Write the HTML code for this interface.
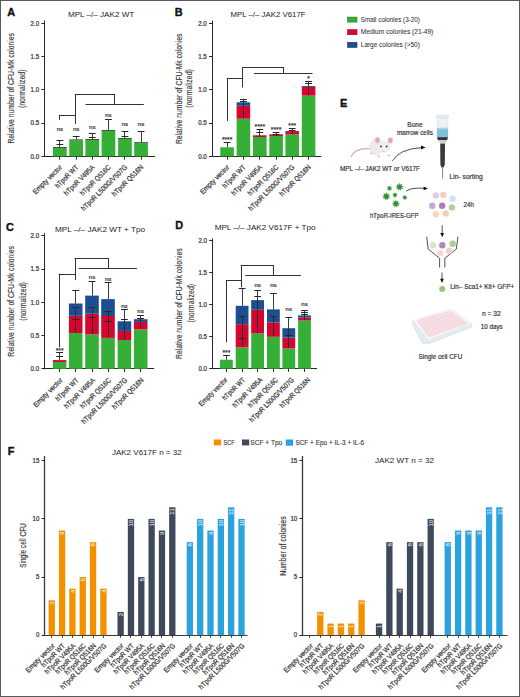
<!DOCTYPE html>
<html><head><meta charset="utf-8"><style>
html,body{margin:0;padding:0;background:#fff;}
body{width:520px;height:697px;overflow:hidden;}
svg{display:block;}
text{font-family:"Liberation Sans", sans-serif;}
</style></head><body>
<svg width="520" height="697" viewBox="0 0 520 697">
<rect x="0" y="0" width="520" height="697" fill="#fff"/>
<line x1="44.50" y1="20.60" x2="44.50" y2="156.90" stroke="#262626" stroke-width="1.0"/>
<line x1="44.30" y1="156.50" x2="155.00" y2="156.50" stroke="#262626" stroke-width="1.0"/>
<line x1="41.40" y1="156.50" x2="44.80" y2="156.50" stroke="#262626" stroke-width="1.0"/>
<text x="39.20" y="158.70" font-size="6.4" text-anchor="end" fill="#333" textLength="8.60" lengthAdjust="spacingAndGlyphs" stroke="#333" stroke-width="0.22">0.0</text>
<line x1="41.40" y1="123.50" x2="44.80" y2="123.50" stroke="#262626" stroke-width="1.0"/>
<text x="39.20" y="125.40" font-size="6.4" text-anchor="end" fill="#333" textLength="8.60" lengthAdjust="spacingAndGlyphs" stroke="#333" stroke-width="0.22">0.5</text>
<line x1="41.40" y1="89.50" x2="44.80" y2="89.50" stroke="#262626" stroke-width="1.0"/>
<text x="39.20" y="92.10" font-size="6.4" text-anchor="end" fill="#333" textLength="8.60" lengthAdjust="spacingAndGlyphs" stroke="#333" stroke-width="0.22">1.0</text>
<line x1="41.40" y1="56.50" x2="44.80" y2="56.50" stroke="#262626" stroke-width="1.0"/>
<text x="39.20" y="58.80" font-size="6.4" text-anchor="end" fill="#333" textLength="8.60" lengthAdjust="spacingAndGlyphs" stroke="#333" stroke-width="0.22">1.5</text>
<line x1="41.40" y1="23.50" x2="44.80" y2="23.50" stroke="#262626" stroke-width="1.0"/>
<text x="39.20" y="25.50" font-size="6.4" text-anchor="end" fill="#333" textLength="8.60" lengthAdjust="spacingAndGlyphs" stroke="#333" stroke-width="0.22">2.0</text>
<text x="13.70" y="88.30" font-size="8.4" text-anchor="middle" fill="#333" textLength="110.50" lengthAdjust="spacingAndGlyphs" transform="rotate(-90 13.70 88.30)" stroke="#333" stroke-width="0.12">Relative number of CFU-Mk colonies</text>
<text x="25.10" y="88.80" font-size="8.4" text-anchor="middle" fill="#333" textLength="38.50" lengthAdjust="spacingAndGlyphs" transform="rotate(-90 25.10 88.80)" stroke="#333" stroke-width="0.12">(normalized)</text>
<rect x="53.00" y="148.00" width="13.70" height="8.40" fill="#35af36"/>
<rect x="53.00" y="147.10" width="13.70" height="0.90" fill="#2a4a24"/>
<line x1="59.50" y1="156.40" x2="59.50" y2="159.60" stroke="#262626" stroke-width="1.0"/>
<text x="62.55" y="167.80" font-size="7.2" text-anchor="end" fill="#333" textLength="38.00" lengthAdjust="spacingAndGlyphs" transform="rotate(-45 62.55 167.80)" stroke="#333" stroke-width="0.22">Empty vector</text>
<rect x="69.30" y="140.30" width="13.70" height="16.10" fill="#35af36"/>
<rect x="69.30" y="139.40" width="13.70" height="0.90" fill="#2a4a24"/>
<line x1="76.50" y1="156.40" x2="76.50" y2="159.60" stroke="#262626" stroke-width="1.0"/>
<text x="78.85" y="167.80" font-size="7.2" text-anchor="end" fill="#333" textLength="29.60" lengthAdjust="spacingAndGlyphs" transform="rotate(-45 78.85 167.80)" stroke="#333" stroke-width="0.22">hTpoR WT</text>
<rect x="85.40" y="139.90" width="13.70" height="16.50" fill="#35af36"/>
<rect x="85.40" y="139.00" width="13.70" height="0.90" fill="#2a4a24"/>
<line x1="92.50" y1="156.40" x2="92.50" y2="159.60" stroke="#262626" stroke-width="1.0"/>
<text x="94.95" y="167.80" font-size="7.2" text-anchor="end" fill="#333" textLength="40.00" lengthAdjust="spacingAndGlyphs" transform="rotate(-45 94.95 167.80)" stroke="#333" stroke-width="0.22">hTpoR V495A</text>
<rect x="101.60" y="131.00" width="13.70" height="25.40" fill="#35af36"/>
<rect x="101.60" y="130.10" width="13.70" height="0.90" fill="#2a4a24"/>
<line x1="108.50" y1="156.40" x2="108.50" y2="159.60" stroke="#262626" stroke-width="1.0"/>
<text x="111.15" y="167.80" font-size="7.2" text-anchor="end" fill="#333" textLength="40.00" lengthAdjust="spacingAndGlyphs" transform="rotate(-45 111.15 167.80)" stroke="#333" stroke-width="0.22">hTpoR Q516C</text>
<rect x="118.10" y="138.90" width="13.70" height="17.50" fill="#35af36"/>
<rect x="118.10" y="138.00" width="13.70" height="0.90" fill="#2a4a24"/>
<line x1="124.50" y1="156.40" x2="124.50" y2="159.60" stroke="#262626" stroke-width="1.0"/>
<text x="127.65" y="167.80" font-size="7.2" text-anchor="end" fill="#333" textLength="61.60" lengthAdjust="spacingAndGlyphs" transform="rotate(-45 127.65 167.80)" stroke="#333" stroke-width="0.22">hTpoR L500G/V507G</text>
<rect x="134.20" y="143.10" width="13.70" height="13.30" fill="#35af36"/>
<rect x="134.20" y="142.20" width="13.70" height="0.90" fill="#2a4a24"/>
<line x1="141.50" y1="156.40" x2="141.50" y2="159.60" stroke="#262626" stroke-width="1.0"/>
<text x="143.75" y="167.80" font-size="7.2" text-anchor="end" fill="#333" textLength="41.00" lengthAdjust="spacingAndGlyphs" transform="rotate(-45 143.75 167.80)" stroke="#333" stroke-width="0.22">hTpoR Q516N</text>
<line x1="59.50" y1="140.60" x2="59.50" y2="147.10" stroke="#262626" stroke-width="0.9"/>
<line x1="56.45" y1="140.50" x2="63.25" y2="140.50" stroke="#262626" stroke-width="1.0"/>
<line x1="56.45" y1="144.50" x2="63.25" y2="144.50" stroke="#262626" stroke-width="1.0"/>
<line x1="76.50" y1="136.20" x2="76.50" y2="139.40" stroke="#262626" stroke-width="0.9"/>
<line x1="72.75" y1="136.50" x2="79.55" y2="136.50" stroke="#262626" stroke-width="1.0"/>
<line x1="92.50" y1="133.50" x2="92.50" y2="139.00" stroke="#262626" stroke-width="0.9"/>
<line x1="88.85" y1="133.50" x2="95.65" y2="133.50" stroke="#262626" stroke-width="1.0"/>
<line x1="88.85" y1="137.50" x2="95.65" y2="137.50" stroke="#262626" stroke-width="1.0"/>
<line x1="108.50" y1="119.30" x2="108.50" y2="130.10" stroke="#262626" stroke-width="0.9"/>
<line x1="105.05" y1="119.50" x2="111.85" y2="119.50" stroke="#262626" stroke-width="1.0"/>
<line x1="124.50" y1="131.30" x2="124.50" y2="138.00" stroke="#262626" stroke-width="0.9"/>
<line x1="121.55" y1="131.50" x2="128.35" y2="131.50" stroke="#262626" stroke-width="1.0"/>
<line x1="121.55" y1="136.50" x2="128.35" y2="136.50" stroke="#262626" stroke-width="1.0"/>
<line x1="141.50" y1="131.90" x2="141.50" y2="142.20" stroke="#262626" stroke-width="0.9"/>
<line x1="137.65" y1="131.50" x2="144.45" y2="131.50" stroke="#262626" stroke-width="1.0"/>
<text x="59.85" y="130.70" font-size="6.2" text-anchor="middle" fill="#333" textLength="6.40" lengthAdjust="spacingAndGlyphs" stroke="#333" stroke-width="0.22">ns</text>
<text x="76.15" y="130.70" font-size="6.2" text-anchor="middle" fill="#333" textLength="6.40" lengthAdjust="spacingAndGlyphs" stroke="#333" stroke-width="0.22">ns</text>
<text x="92.25" y="128.70" font-size="6.2" text-anchor="middle" fill="#333" textLength="6.40" lengthAdjust="spacingAndGlyphs" stroke="#333" stroke-width="0.22">ns</text>
<text x="108.45" y="117.20" font-size="6.2" text-anchor="middle" fill="#333" textLength="6.40" lengthAdjust="spacingAndGlyphs" stroke="#333" stroke-width="0.22">ns</text>
<text x="124.95" y="126.10" font-size="6.2" text-anchor="middle" fill="#333" textLength="6.40" lengthAdjust="spacingAndGlyphs" stroke="#333" stroke-width="0.22">ns</text>
<text x="141.05" y="126.10" font-size="6.2" text-anchor="middle" fill="#333" textLength="6.40" lengthAdjust="spacingAndGlyphs" stroke="#333" stroke-width="0.22">ns</text>
<line x1="75.25" y1="94.50" x2="114.60" y2="94.50" stroke="#333" stroke-width="1.0" stroke-linecap="square"/>
<line x1="75.50" y1="94.50" x2="75.50" y2="123.40" stroke="#333" stroke-width="1.0" stroke-linecap="square"/>
<line x1="114.50" y1="94.50" x2="114.50" y2="104.60" stroke="#333" stroke-width="1.0" stroke-linecap="square"/>
<line x1="86.00" y1="104.50" x2="143.30" y2="104.50" stroke="#333" stroke-width="1.0" stroke-linecap="square"/>
<line x1="59.70" y1="115.50" x2="75.25" y2="115.50" stroke="#333" stroke-width="1.0" stroke-linecap="square"/>
<line x1="59.50" y1="115.30" x2="59.50" y2="119.30" stroke="#333" stroke-width="1.0" stroke-linecap="square"/>
<text x="7.20" y="16.30" font-size="10.9" text-anchor="start" fill="#111" font-weight="bold" stroke="#111" stroke-width="0.35">A</text>
<text x="67.90" y="17.20" font-size="7.7" text-anchor="start" fill="#222" textLength="66.40" lengthAdjust="spacingAndGlyphs">MPL –/– JAK2 WT</text>
<line x1="212.50" y1="20.60" x2="212.50" y2="156.90" stroke="#262626" stroke-width="1.0"/>
<line x1="211.90" y1="156.50" x2="321.30" y2="156.50" stroke="#262626" stroke-width="1.0"/>
<line x1="209.00" y1="156.50" x2="212.40" y2="156.50" stroke="#262626" stroke-width="1.0"/>
<text x="206.80" y="158.70" font-size="6.4" text-anchor="end" fill="#333" textLength="8.60" lengthAdjust="spacingAndGlyphs" stroke="#333" stroke-width="0.22">0.0</text>
<line x1="209.00" y1="123.50" x2="212.40" y2="123.50" stroke="#262626" stroke-width="1.0"/>
<text x="206.80" y="125.42" font-size="6.4" text-anchor="end" fill="#333" textLength="8.60" lengthAdjust="spacingAndGlyphs" stroke="#333" stroke-width="0.22">0.5</text>
<line x1="209.00" y1="89.50" x2="212.40" y2="89.50" stroke="#262626" stroke-width="1.0"/>
<text x="206.80" y="92.15" font-size="6.4" text-anchor="end" fill="#333" textLength="8.60" lengthAdjust="spacingAndGlyphs" stroke="#333" stroke-width="0.22">1.0</text>
<line x1="209.00" y1="56.50" x2="212.40" y2="56.50" stroke="#262626" stroke-width="1.0"/>
<text x="206.80" y="58.88" font-size="6.4" text-anchor="end" fill="#333" textLength="8.60" lengthAdjust="spacingAndGlyphs" stroke="#333" stroke-width="0.22">1.5</text>
<line x1="209.00" y1="23.50" x2="212.40" y2="23.50" stroke="#262626" stroke-width="1.0"/>
<text x="206.80" y="25.60" font-size="6.4" text-anchor="end" fill="#333" textLength="8.60" lengthAdjust="spacingAndGlyphs" stroke="#333" stroke-width="0.22">2.0</text>
<text x="182.20" y="88.80" font-size="8.4" text-anchor="middle" fill="#333" textLength="110.50" lengthAdjust="spacingAndGlyphs" transform="rotate(-90 182.20 88.80)" stroke="#333" stroke-width="0.12">Relative number of CFU-Mk colonies</text>
<text x="192.20" y="88.40" font-size="8.4" text-anchor="middle" fill="#333" textLength="38.50" lengthAdjust="spacingAndGlyphs" transform="rotate(-90 192.20 88.40)" stroke="#333" stroke-width="0.12">(normalized)</text>
<rect x="220.30" y="147.30" width="13.60" height="9.10" fill="#35af36"/>
<line x1="227.50" y1="156.40" x2="227.50" y2="159.60" stroke="#262626" stroke-width="1.0"/>
<text x="229.80" y="167.80" font-size="7.2" text-anchor="end" fill="#333" textLength="38.00" lengthAdjust="spacingAndGlyphs" transform="rotate(-45 229.80 167.80)" stroke="#333" stroke-width="0.22">Empty vector</text>
<rect x="236.60" y="118.70" width="13.60" height="37.70" fill="#35af36"/>
<rect x="236.60" y="105.80" width="13.60" height="12.90" fill="#d5062f"/>
<rect x="236.60" y="102.30" width="13.60" height="3.50" fill="#1b4f92"/>
<line x1="243.50" y1="156.40" x2="243.50" y2="159.60" stroke="#262626" stroke-width="1.0"/>
<text x="246.10" y="167.80" font-size="7.2" text-anchor="end" fill="#333" textLength="29.60" lengthAdjust="spacingAndGlyphs" transform="rotate(-45 246.10 167.80)" stroke="#333" stroke-width="0.22">hTpoR WT</text>
<rect x="253.00" y="137.00" width="13.60" height="19.40" fill="#35af36"/>
<rect x="253.00" y="135.30" width="13.60" height="1.70" fill="#d5062f"/>
<line x1="259.50" y1="156.40" x2="259.50" y2="159.60" stroke="#262626" stroke-width="1.0"/>
<text x="262.50" y="167.80" font-size="7.2" text-anchor="end" fill="#333" textLength="40.00" lengthAdjust="spacingAndGlyphs" transform="rotate(-45 262.50 167.80)" stroke="#333" stroke-width="0.22">hTpoR V495A</text>
<rect x="269.30" y="136.00" width="13.60" height="20.40" fill="#35af36"/>
<rect x="269.30" y="134.30" width="13.60" height="1.70" fill="#d5062f"/>
<line x1="276.50" y1="156.40" x2="276.50" y2="159.60" stroke="#262626" stroke-width="1.0"/>
<text x="278.80" y="167.80" font-size="7.2" text-anchor="end" fill="#333" textLength="40.00" lengthAdjust="spacingAndGlyphs" transform="rotate(-45 278.80 167.80)" stroke="#333" stroke-width="0.22">hTpoR Q516C</text>
<rect x="285.40" y="134.40" width="13.60" height="22.00" fill="#35af36"/>
<rect x="285.40" y="131.10" width="13.60" height="3.30" fill="#d5062f"/>
<line x1="292.50" y1="156.40" x2="292.50" y2="159.60" stroke="#262626" stroke-width="1.0"/>
<text x="294.90" y="167.80" font-size="7.2" text-anchor="end" fill="#333" textLength="61.60" lengthAdjust="spacingAndGlyphs" transform="rotate(-45 294.90 167.80)" stroke="#333" stroke-width="0.22">hTpoR L500G/V507G</text>
<rect x="301.80" y="95.60" width="13.60" height="60.80" fill="#35af36"/>
<rect x="301.80" y="86.90" width="13.60" height="8.70" fill="#d5062f"/>
<rect x="301.80" y="86.00" width="13.60" height="0.90" fill="#1b4f92"/>
<line x1="308.50" y1="156.40" x2="308.50" y2="159.60" stroke="#262626" stroke-width="1.0"/>
<text x="311.30" y="167.80" font-size="7.2" text-anchor="end" fill="#333" textLength="41.00" lengthAdjust="spacingAndGlyphs" transform="rotate(-45 311.30 167.80)" stroke="#333" stroke-width="0.22">hTpoR Q516N</text>
<line x1="227.50" y1="142.50" x2="227.50" y2="147.30" stroke="#262626" stroke-width="0.9"/>
<line x1="223.70" y1="142.50" x2="230.50" y2="142.50" stroke="#262626" stroke-width="1.0"/>
<line x1="243.50" y1="99.50" x2="243.50" y2="118.40" stroke="#262626" stroke-width="0.9"/>
<line x1="240.00" y1="99.50" x2="246.80" y2="99.50" stroke="#262626" stroke-width="1.0"/>
<line x1="240.00" y1="101.50" x2="246.80" y2="101.50" stroke="#262626" stroke-width="1.0"/>
<line x1="259.50" y1="129.40" x2="259.50" y2="137.00" stroke="#262626" stroke-width="0.9"/>
<line x1="256.40" y1="129.50" x2="263.20" y2="129.50" stroke="#262626" stroke-width="1.0"/>
<line x1="256.40" y1="132.50" x2="263.20" y2="132.50" stroke="#262626" stroke-width="1.0"/>
<line x1="276.50" y1="132.40" x2="276.50" y2="136.00" stroke="#262626" stroke-width="0.9"/>
<line x1="272.65" y1="132.50" x2="279.45" y2="132.50" stroke="#262626" stroke-width="1.0"/>
<line x1="272.65" y1="134.50" x2="279.45" y2="134.50" stroke="#262626" stroke-width="1.0"/>
<line x1="292.50" y1="128.40" x2="292.50" y2="134.40" stroke="#262626" stroke-width="0.9"/>
<line x1="288.80" y1="128.50" x2="295.60" y2="128.50" stroke="#262626" stroke-width="1.0"/>
<line x1="288.80" y1="130.50" x2="295.60" y2="130.50" stroke="#262626" stroke-width="1.0"/>
<line x1="308.50" y1="81.50" x2="308.50" y2="95.60" stroke="#262626" stroke-width="0.9"/>
<line x1="305.20" y1="81.50" x2="312.00" y2="81.50" stroke="#262626" stroke-width="1.0"/>
<line x1="305.20" y1="83.50" x2="312.00" y2="83.50" stroke="#262626" stroke-width="1.0"/>
<text x="227.10" y="142.00" font-size="6.4" text-anchor="middle" fill="#333" textLength="10.40" lengthAdjust="spacingAndGlyphs" stroke="#333" stroke-width="0.22">****</text>
<text x="259.80" y="129.00" font-size="6.4" text-anchor="middle" fill="#333" textLength="10.40" lengthAdjust="spacingAndGlyphs" stroke="#333" stroke-width="0.22">****</text>
<text x="276.05" y="131.50" font-size="6.4" text-anchor="middle" fill="#333" textLength="10.40" lengthAdjust="spacingAndGlyphs" stroke="#333" stroke-width="0.22">****</text>
<text x="292.20" y="127.50" font-size="6.4" text-anchor="middle" fill="#333" textLength="7.80" lengthAdjust="spacingAndGlyphs" stroke="#333" stroke-width="0.22">***</text>
<text x="308.60" y="81.30" font-size="6.4" text-anchor="middle" fill="#333" textLength="2.60" lengthAdjust="spacingAndGlyphs" stroke="#333" stroke-width="0.22">*</text>
<line x1="242.80" y1="67.50" x2="283.40" y2="67.50" stroke="#333" stroke-width="1.0" stroke-linecap="square"/>
<line x1="242.50" y1="67.70" x2="242.50" y2="86.90" stroke="#333" stroke-width="1.0" stroke-linecap="square"/>
<line x1="283.50" y1="67.70" x2="283.50" y2="73.40" stroke="#333" stroke-width="1.0" stroke-linecap="square"/>
<line x1="254.50" y1="73.50" x2="312.00" y2="73.50" stroke="#333" stroke-width="1.0" stroke-linecap="square"/>
<line x1="227.20" y1="78.50" x2="242.80" y2="78.50" stroke="#333" stroke-width="1.0" stroke-linecap="square"/>
<line x1="227.50" y1="78.70" x2="227.50" y2="120.40" stroke="#333" stroke-width="1.0" stroke-linecap="square"/>
<text x="174.80" y="16.30" font-size="10.9" text-anchor="start" fill="#111" font-weight="bold" stroke="#111" stroke-width="0.35">B</text>
<text x="230.40" y="17.30" font-size="7.7" text-anchor="start" fill="#222" textLength="75.20" lengthAdjust="spacingAndGlyphs">MPL –/– JAK2 V617F</text>
<line x1="44.50" y1="233.20" x2="44.50" y2="369.30" stroke="#262626" stroke-width="1.0"/>
<line x1="44.30" y1="368.50" x2="154.10" y2="368.50" stroke="#262626" stroke-width="1.0"/>
<line x1="41.40" y1="368.50" x2="44.80" y2="368.50" stroke="#262626" stroke-width="1.0"/>
<text x="39.20" y="371.10" font-size="6.4" text-anchor="end" fill="#333" textLength="8.60" lengthAdjust="spacingAndGlyphs" stroke="#333" stroke-width="0.22">0.0</text>
<line x1="41.40" y1="335.50" x2="44.80" y2="335.50" stroke="#262626" stroke-width="1.0"/>
<text x="39.20" y="337.85" font-size="6.4" text-anchor="end" fill="#333" textLength="8.60" lengthAdjust="spacingAndGlyphs" stroke="#333" stroke-width="0.22">0.5</text>
<line x1="41.40" y1="302.50" x2="44.80" y2="302.50" stroke="#262626" stroke-width="1.0"/>
<text x="39.20" y="304.60" font-size="6.4" text-anchor="end" fill="#333" textLength="8.60" lengthAdjust="spacingAndGlyphs" stroke="#333" stroke-width="0.22">1.0</text>
<line x1="41.40" y1="269.50" x2="44.80" y2="269.50" stroke="#262626" stroke-width="1.0"/>
<text x="39.20" y="271.35" font-size="6.4" text-anchor="end" fill="#333" textLength="8.60" lengthAdjust="spacingAndGlyphs" stroke="#333" stroke-width="0.22">1.5</text>
<line x1="41.40" y1="235.50" x2="44.80" y2="235.50" stroke="#262626" stroke-width="1.0"/>
<text x="39.20" y="238.10" font-size="6.4" text-anchor="end" fill="#333" textLength="8.60" lengthAdjust="spacingAndGlyphs" stroke="#333" stroke-width="0.22">2.0</text>
<text x="14.30" y="301.40" font-size="8.4" text-anchor="middle" fill="#333" textLength="110.50" lengthAdjust="spacingAndGlyphs" transform="rotate(-90 14.30 301.40)" stroke="#333" stroke-width="0.12">Relative number of CFU-Mk colonies</text>
<text x="25.70" y="301.40" font-size="8.4" text-anchor="middle" fill="#333" textLength="38.50" lengthAdjust="spacingAndGlyphs" transform="rotate(-90 25.70 301.40)" stroke="#333" stroke-width="0.12">(normalized)</text>
<rect x="52.80" y="362.00" width="13.60" height="6.80" fill="#35af36"/>
<rect x="52.80" y="360.10" width="13.60" height="1.90" fill="#d5062f"/>
<line x1="59.50" y1="368.80" x2="59.50" y2="372.00" stroke="#262626" stroke-width="1.0"/>
<text x="63.00" y="380.80" font-size="7.2" text-anchor="end" fill="#333" textLength="38.00" lengthAdjust="spacingAndGlyphs" transform="rotate(-45 63.00 380.80)" stroke="#333" stroke-width="0.22">Empty vector</text>
<rect x="68.90" y="333.00" width="13.60" height="35.80" fill="#35af36"/>
<rect x="68.90" y="315.80" width="13.60" height="17.20" fill="#d5062f"/>
<rect x="68.90" y="303.50" width="13.60" height="12.30" fill="#1b4f92"/>
<line x1="75.50" y1="368.80" x2="75.50" y2="372.00" stroke="#262626" stroke-width="1.0"/>
<text x="79.10" y="380.80" font-size="7.2" text-anchor="end" fill="#333" textLength="29.60" lengthAdjust="spacingAndGlyphs" transform="rotate(-45 79.10 380.80)" stroke="#333" stroke-width="0.22">hTpoR WT</text>
<rect x="85.20" y="334.40" width="13.60" height="34.40" fill="#35af36"/>
<rect x="85.20" y="313.70" width="13.60" height="20.70" fill="#d5062f"/>
<rect x="85.20" y="295.60" width="13.60" height="18.10" fill="#1b4f92"/>
<line x1="92.50" y1="368.80" x2="92.50" y2="372.00" stroke="#262626" stroke-width="1.0"/>
<text x="95.40" y="380.80" font-size="7.2" text-anchor="end" fill="#333" textLength="40.00" lengthAdjust="spacingAndGlyphs" transform="rotate(-45 95.40 380.80)" stroke="#333" stroke-width="0.22">hTpoR V495A</text>
<rect x="101.20" y="337.90" width="13.60" height="30.90" fill="#35af36"/>
<rect x="101.20" y="316.00" width="13.60" height="21.90" fill="#d5062f"/>
<rect x="101.20" y="299.10" width="13.60" height="16.90" fill="#1b4f92"/>
<line x1="108.50" y1="368.80" x2="108.50" y2="372.00" stroke="#262626" stroke-width="1.0"/>
<text x="111.40" y="380.80" font-size="7.2" text-anchor="end" fill="#333" textLength="40.00" lengthAdjust="spacingAndGlyphs" transform="rotate(-45 111.40 380.80)" stroke="#333" stroke-width="0.22">hTpoR Q516C</text>
<rect x="117.60" y="340.00" width="13.60" height="28.80" fill="#35af36"/>
<rect x="117.60" y="330.90" width="13.60" height="9.10" fill="#d5062f"/>
<rect x="117.60" y="321.30" width="13.60" height="9.60" fill="#1b4f92"/>
<line x1="124.50" y1="368.80" x2="124.50" y2="372.00" stroke="#262626" stroke-width="1.0"/>
<text x="127.80" y="380.80" font-size="7.2" text-anchor="end" fill="#333" textLength="61.60" lengthAdjust="spacingAndGlyphs" transform="rotate(-45 127.80 380.80)" stroke="#333" stroke-width="0.22">hTpoR L500G/V507G</text>
<rect x="133.90" y="329.40" width="13.60" height="39.40" fill="#35af36"/>
<rect x="133.90" y="321.90" width="13.60" height="7.50" fill="#d5062f"/>
<rect x="133.90" y="319.20" width="13.60" height="2.70" fill="#1b4f92"/>
<line x1="140.50" y1="368.80" x2="140.50" y2="372.00" stroke="#262626" stroke-width="1.0"/>
<text x="144.10" y="380.80" font-size="7.2" text-anchor="end" fill="#333" textLength="41.00" lengthAdjust="spacingAndGlyphs" transform="rotate(-45 144.10 380.80)" stroke="#333" stroke-width="0.22">hTpoR Q516N</text>
<line x1="59.50" y1="352.70" x2="59.50" y2="360.10" stroke="#262626" stroke-width="0.9"/>
<line x1="56.20" y1="352.50" x2="63.00" y2="352.50" stroke="#262626" stroke-width="1.0"/>
<line x1="56.20" y1="356.50" x2="63.00" y2="356.50" stroke="#262626" stroke-width="1.0"/>
<line x1="75.50" y1="290.30" x2="75.50" y2="303.50" stroke="#262626" stroke-width="0.9"/>
<line x1="75.50" y1="307.40" x2="75.50" y2="332.50" stroke="#262626" stroke-width="0.9"/>
<line x1="72.30" y1="290.50" x2="79.10" y2="290.50" stroke="#262626" stroke-width="1.0"/>
<line x1="72.30" y1="307.50" x2="79.10" y2="307.50" stroke="#262626" stroke-width="1.0"/>
<line x1="72.30" y1="319.50" x2="79.10" y2="319.50" stroke="#262626" stroke-width="1.0"/>
<line x1="92.50" y1="281.30" x2="92.50" y2="295.60" stroke="#262626" stroke-width="0.9"/>
<line x1="92.50" y1="307.30" x2="92.50" y2="333.80" stroke="#262626" stroke-width="0.9"/>
<line x1="88.60" y1="281.50" x2="95.40" y2="281.50" stroke="#262626" stroke-width="1.0"/>
<line x1="88.60" y1="307.50" x2="95.40" y2="307.50" stroke="#262626" stroke-width="1.0"/>
<line x1="88.60" y1="317.50" x2="95.40" y2="317.50" stroke="#262626" stroke-width="1.0"/>
<line x1="108.50" y1="282.40" x2="108.50" y2="299.10" stroke="#262626" stroke-width="0.9"/>
<line x1="108.50" y1="311.40" x2="108.50" y2="337.50" stroke="#262626" stroke-width="0.9"/>
<line x1="104.70" y1="282.50" x2="111.50" y2="282.50" stroke="#262626" stroke-width="1.0"/>
<line x1="104.70" y1="311.50" x2="111.50" y2="311.50" stroke="#262626" stroke-width="1.0"/>
<line x1="104.70" y1="321.50" x2="111.50" y2="321.50" stroke="#262626" stroke-width="1.0"/>
<line x1="124.50" y1="309.70" x2="124.50" y2="339.00" stroke="#262626" stroke-width="0.9"/>
<line x1="121.00" y1="309.50" x2="127.80" y2="309.50" stroke="#262626" stroke-width="1.0"/>
<line x1="121.00" y1="319.50" x2="127.80" y2="319.50" stroke="#262626" stroke-width="1.0"/>
<line x1="140.50" y1="315.40" x2="140.50" y2="328.80" stroke="#262626" stroke-width="0.9"/>
<line x1="137.10" y1="315.50" x2="143.90" y2="315.50" stroke="#262626" stroke-width="1.0"/>
<line x1="137.10" y1="318.50" x2="143.90" y2="318.50" stroke="#262626" stroke-width="1.0"/>
<text x="59.60" y="352.50" font-size="6.4" text-anchor="middle" fill="#333" textLength="7.80" lengthAdjust="spacingAndGlyphs" stroke="#333" stroke-width="0.22">***</text>
<text x="92.00" y="279.30" font-size="6.2" text-anchor="middle" fill="#333" textLength="6.40" lengthAdjust="spacingAndGlyphs" stroke="#333" stroke-width="0.22">ns</text>
<text x="108.10" y="280.70" font-size="6.2" text-anchor="middle" fill="#333" textLength="6.40" lengthAdjust="spacingAndGlyphs" stroke="#333" stroke-width="0.22">ns</text>
<text x="124.40" y="307.80" font-size="6.2" text-anchor="middle" fill="#333" textLength="6.40" lengthAdjust="spacingAndGlyphs" stroke="#333" stroke-width="0.22">ns</text>
<text x="140.50" y="313.10" font-size="6.2" text-anchor="middle" fill="#333" textLength="6.40" lengthAdjust="spacingAndGlyphs" stroke="#333" stroke-width="0.22">ns</text>
<line x1="75.00" y1="258.50" x2="108.30" y2="258.50" stroke="#333" stroke-width="1.0" stroke-linecap="square"/>
<line x1="75.50" y1="258.50" x2="75.50" y2="279.60" stroke="#333" stroke-width="1.0" stroke-linecap="square"/>
<line x1="108.50" y1="258.50" x2="108.50" y2="268.50" stroke="#333" stroke-width="1.0" stroke-linecap="square"/>
<line x1="79.20" y1="268.50" x2="136.50" y2="268.50" stroke="#333" stroke-width="1.0" stroke-linecap="square"/>
<line x1="59.20" y1="274.50" x2="75.00" y2="274.50" stroke="#333" stroke-width="1.0" stroke-linecap="square"/>
<line x1="59.50" y1="274.20" x2="59.50" y2="346.70" stroke="#333" stroke-width="1.0" stroke-linecap="square"/>
<text x="6.00" y="231.00" font-size="10.9" text-anchor="start" fill="#111" font-weight="bold" stroke="#111" stroke-width="0.35">C</text>
<text x="55.00" y="231.90" font-size="7.7" text-anchor="start" fill="#222" textLength="90.00" lengthAdjust="spacingAndGlyphs">MPL –/– JAK2 WT + Tpo</text>
<line x1="212.50" y1="238.40" x2="212.50" y2="369.20" stroke="#262626" stroke-width="1.0"/>
<line x1="212.10" y1="368.50" x2="317.00" y2="368.50" stroke="#262626" stroke-width="1.0"/>
<line x1="209.20" y1="368.50" x2="212.60" y2="368.50" stroke="#262626" stroke-width="1.0"/>
<text x="207.00" y="371.00" font-size="6.4" text-anchor="end" fill="#333" textLength="8.60" lengthAdjust="spacingAndGlyphs" stroke="#333" stroke-width="0.22">0.0</text>
<line x1="209.20" y1="336.50" x2="212.60" y2="336.50" stroke="#262626" stroke-width="1.0"/>
<text x="207.00" y="339.03" font-size="6.4" text-anchor="end" fill="#333" textLength="8.60" lengthAdjust="spacingAndGlyphs" stroke="#333" stroke-width="0.22">0.5</text>
<line x1="209.20" y1="304.50" x2="212.60" y2="304.50" stroke="#262626" stroke-width="1.0"/>
<text x="207.00" y="307.05" font-size="6.4" text-anchor="end" fill="#333" textLength="8.60" lengthAdjust="spacingAndGlyphs" stroke="#333" stroke-width="0.22">1.0</text>
<line x1="209.20" y1="272.50" x2="212.60" y2="272.50" stroke="#262626" stroke-width="1.0"/>
<text x="207.00" y="275.07" font-size="6.4" text-anchor="end" fill="#333" textLength="8.60" lengthAdjust="spacingAndGlyphs" stroke="#333" stroke-width="0.22">1.5</text>
<line x1="209.20" y1="240.50" x2="212.60" y2="240.50" stroke="#262626" stroke-width="1.0"/>
<text x="207.00" y="243.10" font-size="6.4" text-anchor="end" fill="#333" textLength="8.60" lengthAdjust="spacingAndGlyphs" stroke="#333" stroke-width="0.22">2.0</text>
<text x="182.20" y="303.70" font-size="8.4" text-anchor="middle" fill="#333" textLength="110.50" lengthAdjust="spacingAndGlyphs" transform="rotate(-90 182.20 303.70)" stroke="#333" stroke-width="0.12">Relative number of CFU-Mk colonies</text>
<text x="194.00" y="303.20" font-size="8.4" text-anchor="middle" fill="#333" textLength="38.50" lengthAdjust="spacingAndGlyphs" transform="rotate(-90 194.00 303.20)" stroke="#333" stroke-width="0.12">(normalized)</text>
<rect x="220.00" y="359.70" width="12.80" height="9.00" fill="#35af36"/>
<line x1="226.50" y1="368.70" x2="226.50" y2="371.90" stroke="#262626" stroke-width="1.0"/>
<text x="228.00" y="380.30" font-size="7.2" text-anchor="end" fill="#333" textLength="37.50" lengthAdjust="spacingAndGlyphs" transform="rotate(-45 228.00 380.30)" stroke="#333" stroke-width="0.22">Empty vector</text>
<rect x="235.70" y="347.40" width="12.80" height="21.30" fill="#35af36"/>
<rect x="235.70" y="324.20" width="12.80" height="23.20" fill="#d5062f"/>
<rect x="235.70" y="305.80" width="12.80" height="18.40" fill="#1b4f92"/>
<line x1="242.50" y1="368.70" x2="242.50" y2="371.90" stroke="#262626" stroke-width="1.0"/>
<text x="245.50" y="380.30" font-size="7.2" text-anchor="end" fill="#333" textLength="29.00" lengthAdjust="spacingAndGlyphs" transform="rotate(-45 245.50 380.30)" stroke="#333" stroke-width="0.22">hTpoR WT</text>
<rect x="251.20" y="333.50" width="12.80" height="35.20" fill="#35af36"/>
<rect x="251.20" y="309.80" width="12.80" height="23.70" fill="#d5062f"/>
<rect x="251.20" y="300.10" width="12.80" height="9.70" fill="#1b4f92"/>
<line x1="257.50" y1="368.70" x2="257.50" y2="371.90" stroke="#262626" stroke-width="1.0"/>
<text x="262.90" y="380.30" font-size="7.2" text-anchor="end" fill="#333" textLength="39.00" lengthAdjust="spacingAndGlyphs" transform="rotate(-45 262.90 380.30)" stroke="#333" stroke-width="0.22">hTpoR V495A</text>
<rect x="267.00" y="336.80" width="12.80" height="31.90" fill="#35af36"/>
<rect x="267.00" y="322.40" width="12.80" height="14.40" fill="#d5062f"/>
<rect x="267.00" y="309.40" width="12.80" height="13.00" fill="#1b4f92"/>
<line x1="273.50" y1="368.70" x2="273.50" y2="371.90" stroke="#262626" stroke-width="1.0"/>
<text x="278.40" y="380.30" font-size="7.2" text-anchor="end" fill="#333" textLength="39.00" lengthAdjust="spacingAndGlyphs" transform="rotate(-45 278.40 380.30)" stroke="#333" stroke-width="0.22">hTpoR Q516C</text>
<rect x="282.40" y="348.40" width="12.80" height="20.30" fill="#35af36"/>
<rect x="282.40" y="337.70" width="12.80" height="10.70" fill="#d5062f"/>
<rect x="282.40" y="328.20" width="12.80" height="9.50" fill="#1b4f92"/>
<line x1="288.50" y1="368.70" x2="288.50" y2="371.90" stroke="#262626" stroke-width="1.0"/>
<text x="294.50" y="380.30" font-size="7.2" text-anchor="end" fill="#333" textLength="60.00" lengthAdjust="spacingAndGlyphs" transform="rotate(-45 294.50 380.30)" stroke="#333" stroke-width="0.22">hTpoR L500G/V507G</text>
<rect x="298.10" y="320.50" width="12.80" height="48.20" fill="#35af36"/>
<rect x="298.10" y="317.60" width="12.80" height="2.90" fill="#d5062f"/>
<rect x="298.10" y="315.40" width="12.80" height="2.20" fill="#1b4f92"/>
<line x1="304.50" y1="368.70" x2="304.50" y2="371.90" stroke="#262626" stroke-width="1.0"/>
<text x="310.70" y="380.30" font-size="7.2" text-anchor="end" fill="#333" textLength="40.00" lengthAdjust="spacingAndGlyphs" transform="rotate(-45 310.70 380.30)" stroke="#333" stroke-width="0.22">hTpoR Q516N</text>
<line x1="226.50" y1="355.50" x2="226.50" y2="359.70" stroke="#262626" stroke-width="0.9"/>
<line x1="223.00" y1="355.50" x2="229.80" y2="355.50" stroke="#262626" stroke-width="1.0"/>
<line x1="242.50" y1="288.50" x2="242.50" y2="305.80" stroke="#262626" stroke-width="0.9"/>
<line x1="242.50" y1="316.60" x2="242.50" y2="346.80" stroke="#262626" stroke-width="0.9"/>
<line x1="238.70" y1="288.50" x2="245.50" y2="288.50" stroke="#262626" stroke-width="1.0"/>
<line x1="238.70" y1="316.50" x2="245.50" y2="316.50" stroke="#262626" stroke-width="1.0"/>
<line x1="238.70" y1="338.50" x2="245.50" y2="338.50" stroke="#262626" stroke-width="1.0"/>
<line x1="257.50" y1="290.50" x2="257.50" y2="333.20" stroke="#262626" stroke-width="0.9"/>
<line x1="254.30" y1="290.50" x2="261.10" y2="290.50" stroke="#262626" stroke-width="1.0"/>
<line x1="254.30" y1="296.50" x2="261.10" y2="296.50" stroke="#262626" stroke-width="1.0"/>
<line x1="273.50" y1="293.50" x2="273.50" y2="309.40" stroke="#262626" stroke-width="0.9"/>
<line x1="273.50" y1="316.60" x2="273.50" y2="336.30" stroke="#262626" stroke-width="0.9"/>
<line x1="270.00" y1="293.50" x2="276.80" y2="293.50" stroke="#262626" stroke-width="1.0"/>
<line x1="270.00" y1="316.50" x2="276.80" y2="316.50" stroke="#262626" stroke-width="1.0"/>
<line x1="288.50" y1="317.10" x2="288.50" y2="348.00" stroke="#262626" stroke-width="0.9"/>
<line x1="285.40" y1="317.50" x2="292.20" y2="317.50" stroke="#262626" stroke-width="1.0"/>
<line x1="285.40" y1="335.50" x2="292.20" y2="335.50" stroke="#262626" stroke-width="1.0"/>
<line x1="304.50" y1="310.20" x2="304.50" y2="320.20" stroke="#262626" stroke-width="0.9"/>
<line x1="301.10" y1="310.50" x2="307.90" y2="310.50" stroke="#262626" stroke-width="1.0"/>
<line x1="301.10" y1="312.50" x2="307.90" y2="312.50" stroke="#262626" stroke-width="1.0"/>
<line x1="301.10" y1="314.50" x2="307.90" y2="314.50" stroke="#262626" stroke-width="1.0"/>
<text x="226.40" y="355.30" font-size="6.4" text-anchor="middle" fill="#333" textLength="7.80" lengthAdjust="spacingAndGlyphs" stroke="#333" stroke-width="0.22">***</text>
<text x="257.70" y="287.40" font-size="6.2" text-anchor="middle" fill="#333" textLength="6.40" lengthAdjust="spacingAndGlyphs" stroke="#333" stroke-width="0.22">ns</text>
<text x="273.40" y="287.40" font-size="6.2" text-anchor="middle" fill="#333" textLength="6.40" lengthAdjust="spacingAndGlyphs" stroke="#333" stroke-width="0.22">ns</text>
<text x="288.80" y="310.70" font-size="6.2" text-anchor="middle" fill="#333" textLength="6.40" lengthAdjust="spacingAndGlyphs" stroke="#333" stroke-width="0.22">ns</text>
<text x="304.50" y="305.80" font-size="6.2" text-anchor="middle" fill="#333" textLength="6.40" lengthAdjust="spacingAndGlyphs" stroke="#333" stroke-width="0.22">ns</text>
<line x1="241.20" y1="265.50" x2="273.30" y2="265.50" stroke="#333" stroke-width="1.0" stroke-linecap="square"/>
<line x1="241.50" y1="265.60" x2="241.50" y2="286.70" stroke="#333" stroke-width="1.0" stroke-linecap="square"/>
<line x1="273.50" y1="265.60" x2="273.50" y2="275.50" stroke="#333" stroke-width="1.0" stroke-linecap="square"/>
<line x1="245.80" y1="275.50" x2="300.40" y2="275.50" stroke="#333" stroke-width="1.0" stroke-linecap="square"/>
<line x1="226.40" y1="280.50" x2="241.20" y2="280.50" stroke="#333" stroke-width="1.0" stroke-linecap="square"/>
<line x1="226.50" y1="280.80" x2="226.50" y2="341.70" stroke="#333" stroke-width="1.0" stroke-linecap="square"/>
<text x="175.20" y="229.00" font-size="10.9" text-anchor="start" fill="#111" font-weight="bold" stroke="#111" stroke-width="0.35">D</text>
<text x="214.70" y="230.40" font-size="7.7" text-anchor="start" fill="#222" textLength="100.80" lengthAdjust="spacingAndGlyphs">MPL –/– JAK2 V617F + Tpo</text>
<rect x="347.60" y="17.10" width="9.40" height="5.00" fill="#35af36" stroke="#1f7a22" stroke-width="0.6"/>
<text x="360.80" y="21.80" font-size="6.6" text-anchor="start" fill="#333" textLength="59.00" lengthAdjust="spacingAndGlyphs" stroke="#333" stroke-width="0.05">Small colonies (3-20)</text>
<rect x="347.60" y="29.70" width="9.40" height="5.00" fill="#d5062f" stroke="#9a0020" stroke-width="0.6"/>
<text x="360.80" y="34.40" font-size="6.6" text-anchor="start" fill="#333" textLength="72.50" lengthAdjust="spacingAndGlyphs" stroke="#333" stroke-width="0.05">Medium colonies (21-49)</text>
<rect x="347.60" y="42.40" width="9.40" height="5.00" fill="#1b4f92" stroke="#0f3260" stroke-width="0.6"/>
<text x="360.80" y="47.10" font-size="6.6" text-anchor="start" fill="#333" textLength="59.00" lengthAdjust="spacingAndGlyphs" stroke="#333" stroke-width="0.05">Large colonies (&gt;50)</text>
<line x1="44.50" y1="456.00" x2="44.50" y2="635.70" stroke="#3a3a3a" stroke-width="1.3"/>
<line x1="44.30" y1="635.50" x2="247.50" y2="635.50" stroke="#3a3a3a" stroke-width="1.2"/>
<line x1="41.60" y1="635.50" x2="44.80" y2="635.50" stroke="#262626" stroke-width="1.0"/>
<text x="39.40" y="637.40" font-size="6.4" text-anchor="end" fill="#333" textLength="3.40" lengthAdjust="spacingAndGlyphs" stroke="#333" stroke-width="0.22">0</text>
<line x1="41.60" y1="577.50" x2="44.80" y2="577.50" stroke="#262626" stroke-width="1.0"/>
<text x="39.40" y="579.25" font-size="6.4" text-anchor="end" fill="#333" textLength="3.40" lengthAdjust="spacingAndGlyphs" stroke="#333" stroke-width="0.22">5</text>
<line x1="41.60" y1="518.50" x2="44.80" y2="518.50" stroke="#262626" stroke-width="1.0"/>
<text x="39.40" y="521.10" font-size="6.4" text-anchor="end" fill="#333" textLength="6.80" lengthAdjust="spacingAndGlyphs" stroke="#333" stroke-width="0.22">10</text>
<line x1="41.60" y1="460.50" x2="44.80" y2="460.50" stroke="#262626" stroke-width="1.0"/>
<text x="39.40" y="462.95" font-size="6.4" text-anchor="end" fill="#333" textLength="6.80" lengthAdjust="spacingAndGlyphs" stroke="#333" stroke-width="0.22">15</text>
<text x="26.30" y="545.50" font-size="8.6" text-anchor="middle" fill="#333" textLength="44.50" lengthAdjust="spacingAndGlyphs" transform="rotate(-90 26.30 545.50)" stroke="#333" stroke-width="0.15">Single cell CFU</text>
<text x="111.90" y="455.10" font-size="8.0" text-anchor="start" fill="#222" textLength="69.80" lengthAdjust="spacingAndGlyphs">JAK2 V617F n = 32</text>
<rect x="48.60" y="600.31" width="6.30" height="34.89" fill="#f39000"/>
<text x="53.95" y="601.31" font-size="6.2" text-anchor="end" fill="#fff" textLength="3.40" lengthAdjust="spacingAndGlyphs" transform="rotate(-90 53.95 601.31)">3</text>
<line x1="51.50" y1="635.20" x2="51.50" y2="637.80" stroke="#262626" stroke-width="0.9"/>
<text x="55.25" y="646.30" font-size="7.2" text-anchor="end" fill="#333" textLength="38.00" lengthAdjust="spacingAndGlyphs" transform="rotate(-45 55.25 646.30)" stroke="#333" stroke-width="0.22">Empty vector</text>
<rect x="58.93" y="530.53" width="6.30" height="104.67" fill="#f39000"/>
<text x="64.28" y="531.53" font-size="6.2" text-anchor="end" fill="#fff" textLength="3.40" lengthAdjust="spacingAndGlyphs" transform="rotate(-90 64.28 531.53)">9</text>
<line x1="62.50" y1="635.20" x2="62.50" y2="637.80" stroke="#262626" stroke-width="0.9"/>
<text x="65.58" y="646.30" font-size="7.2" text-anchor="end" fill="#333" textLength="30.40" lengthAdjust="spacingAndGlyphs" transform="rotate(-45 65.58 646.30)" stroke="#333" stroke-width="0.22">hTpoR WT</text>
<rect x="69.26" y="588.68" width="6.30" height="46.52" fill="#f39000"/>
<text x="74.61" y="589.68" font-size="6.2" text-anchor="end" fill="#fff" textLength="3.40" lengthAdjust="spacingAndGlyphs" transform="rotate(-90 74.61 589.68)">4</text>
<line x1="72.50" y1="635.20" x2="72.50" y2="637.80" stroke="#262626" stroke-width="0.9"/>
<text x="75.91" y="646.30" font-size="7.2" text-anchor="end" fill="#333" textLength="40.00" lengthAdjust="spacingAndGlyphs" transform="rotate(-45 75.91 646.30)" stroke="#333" stroke-width="0.22">hTpoR V495A</text>
<rect x="79.59" y="577.05" width="6.30" height="58.15" fill="#f39000"/>
<text x="84.94" y="578.05" font-size="6.2" text-anchor="end" fill="#fff" textLength="3.40" lengthAdjust="spacingAndGlyphs" transform="rotate(-90 84.94 578.05)">5</text>
<line x1="82.50" y1="635.20" x2="82.50" y2="637.80" stroke="#262626" stroke-width="0.9"/>
<text x="86.24" y="646.30" font-size="7.2" text-anchor="end" fill="#333" textLength="40.00" lengthAdjust="spacingAndGlyphs" transform="rotate(-45 86.24 646.30)" stroke="#333" stroke-width="0.22">hTpoR Q516C</text>
<rect x="89.92" y="542.16" width="6.30" height="93.04" fill="#f39000"/>
<text x="95.27" y="543.16" font-size="6.2" text-anchor="end" fill="#fff" textLength="3.40" lengthAdjust="spacingAndGlyphs" transform="rotate(-90 95.27 543.16)">8</text>
<line x1="93.50" y1="635.20" x2="93.50" y2="637.80" stroke="#262626" stroke-width="0.9"/>
<text x="96.57" y="646.30" font-size="7.2" text-anchor="end" fill="#333" textLength="41.00" lengthAdjust="spacingAndGlyphs" transform="rotate(-45 96.57 646.30)" stroke="#333" stroke-width="0.22">hTpoR Q516N</text>
<rect x="100.25" y="588.68" width="6.30" height="46.52" fill="#f39000"/>
<text x="105.60" y="589.68" font-size="6.2" text-anchor="end" fill="#fff" textLength="3.40" lengthAdjust="spacingAndGlyphs" transform="rotate(-90 105.60 589.68)">4</text>
<line x1="103.50" y1="635.20" x2="103.50" y2="637.80" stroke="#262626" stroke-width="0.9"/>
<text x="106.90" y="646.30" font-size="7.2" text-anchor="end" fill="#333" textLength="61.60" lengthAdjust="spacingAndGlyphs" transform="rotate(-45 106.90 646.30)" stroke="#333" stroke-width="0.22">hTpoR L500G/V507G</text>
<rect x="117.50" y="611.94" width="6.30" height="23.26" fill="#3e4a5b"/>
<text x="122.85" y="612.94" font-size="6.2" text-anchor="end" fill="#fff" textLength="3.40" lengthAdjust="spacingAndGlyphs" transform="rotate(-90 122.85 612.94)">2</text>
<line x1="120.50" y1="635.20" x2="120.50" y2="637.80" stroke="#262626" stroke-width="0.9"/>
<text x="124.15" y="646.30" font-size="7.2" text-anchor="end" fill="#333" textLength="38.00" lengthAdjust="spacingAndGlyphs" transform="rotate(-45 124.15 646.30)" stroke="#333" stroke-width="0.22">Empty vector</text>
<rect x="127.83" y="518.90" width="6.30" height="116.30" fill="#3e4a5b"/>
<text x="133.18" y="519.90" font-size="6.2" text-anchor="end" fill="#fff" textLength="6.70" lengthAdjust="spacingAndGlyphs" transform="rotate(-90 133.18 519.90)">10</text>
<line x1="130.50" y1="635.20" x2="130.50" y2="637.80" stroke="#262626" stroke-width="0.9"/>
<text x="134.48" y="646.30" font-size="7.2" text-anchor="end" fill="#333" textLength="30.40" lengthAdjust="spacingAndGlyphs" transform="rotate(-45 134.48 646.30)" stroke="#333" stroke-width="0.22">hTpoR WT</text>
<rect x="138.16" y="577.05" width="6.30" height="58.15" fill="#3e4a5b"/>
<text x="143.51" y="578.05" font-size="6.2" text-anchor="end" fill="#fff" textLength="3.40" lengthAdjust="spacingAndGlyphs" transform="rotate(-90 143.51 578.05)">5</text>
<line x1="141.50" y1="635.20" x2="141.50" y2="637.80" stroke="#262626" stroke-width="0.9"/>
<text x="144.81" y="646.30" font-size="7.2" text-anchor="end" fill="#333" textLength="40.00" lengthAdjust="spacingAndGlyphs" transform="rotate(-45 144.81 646.30)" stroke="#333" stroke-width="0.22">hTpoR V495A</text>
<rect x="148.49" y="518.90" width="6.30" height="116.30" fill="#3e4a5b"/>
<text x="153.84" y="519.90" font-size="6.2" text-anchor="end" fill="#fff" textLength="6.70" lengthAdjust="spacingAndGlyphs" transform="rotate(-90 153.84 519.90)">10</text>
<line x1="151.50" y1="635.20" x2="151.50" y2="637.80" stroke="#262626" stroke-width="0.9"/>
<text x="155.14" y="646.30" font-size="7.2" text-anchor="end" fill="#333" textLength="40.00" lengthAdjust="spacingAndGlyphs" transform="rotate(-45 155.14 646.30)" stroke="#333" stroke-width="0.22">hTpoR Q516C</text>
<rect x="158.82" y="530.53" width="6.30" height="104.67" fill="#3e4a5b"/>
<text x="164.17" y="531.53" font-size="6.2" text-anchor="end" fill="#fff" textLength="3.40" lengthAdjust="spacingAndGlyphs" transform="rotate(-90 164.17 531.53)">9</text>
<line x1="161.50" y1="635.20" x2="161.50" y2="637.80" stroke="#262626" stroke-width="0.9"/>
<text x="165.47" y="646.30" font-size="7.2" text-anchor="end" fill="#333" textLength="41.00" lengthAdjust="spacingAndGlyphs" transform="rotate(-45 165.47 646.30)" stroke="#333" stroke-width="0.22">hTpoR Q516N</text>
<rect x="169.15" y="507.27" width="6.30" height="127.93" fill="#3e4a5b"/>
<text x="174.50" y="508.27" font-size="6.2" text-anchor="end" fill="#fff" textLength="6.70" lengthAdjust="spacingAndGlyphs" transform="rotate(-90 174.50 508.27)">11</text>
<line x1="172.50" y1="635.20" x2="172.50" y2="637.80" stroke="#262626" stroke-width="0.9"/>
<text x="175.80" y="646.30" font-size="7.2" text-anchor="end" fill="#333" textLength="61.60" lengthAdjust="spacingAndGlyphs" transform="rotate(-45 175.80 646.30)" stroke="#333" stroke-width="0.22">hTpoR L500G/V507G</text>
<rect x="186.70" y="542.16" width="6.30" height="93.04" fill="#2ba2dc"/>
<text x="192.05" y="543.16" font-size="6.2" text-anchor="end" fill="#fff" textLength="3.40" lengthAdjust="spacingAndGlyphs" transform="rotate(-90 192.05 543.16)">8</text>
<line x1="189.50" y1="635.20" x2="189.50" y2="637.80" stroke="#262626" stroke-width="0.9"/>
<text x="193.35" y="646.30" font-size="7.2" text-anchor="end" fill="#333" textLength="38.00" lengthAdjust="spacingAndGlyphs" transform="rotate(-45 193.35 646.30)" stroke="#333" stroke-width="0.22">Empty vector</text>
<rect x="197.03" y="518.90" width="6.30" height="116.30" fill="#2ba2dc"/>
<text x="202.38" y="519.90" font-size="6.2" text-anchor="end" fill="#fff" textLength="6.70" lengthAdjust="spacingAndGlyphs" transform="rotate(-90 202.38 519.90)">10</text>
<line x1="200.50" y1="635.20" x2="200.50" y2="637.80" stroke="#262626" stroke-width="0.9"/>
<text x="203.68" y="646.30" font-size="7.2" text-anchor="end" fill="#333" textLength="30.40" lengthAdjust="spacingAndGlyphs" transform="rotate(-45 203.68 646.30)" stroke="#333" stroke-width="0.22">hTpoR WT</text>
<rect x="207.36" y="530.53" width="6.30" height="104.67" fill="#2ba2dc"/>
<text x="212.71" y="531.53" font-size="6.2" text-anchor="end" fill="#fff" textLength="3.40" lengthAdjust="spacingAndGlyphs" transform="rotate(-90 212.71 531.53)">9</text>
<line x1="210.50" y1="635.20" x2="210.50" y2="637.80" stroke="#262626" stroke-width="0.9"/>
<text x="214.01" y="646.30" font-size="7.2" text-anchor="end" fill="#333" textLength="40.00" lengthAdjust="spacingAndGlyphs" transform="rotate(-45 214.01 646.30)" stroke="#333" stroke-width="0.22">hTpoR V495A</text>
<rect x="217.69" y="518.90" width="6.30" height="116.30" fill="#2ba2dc"/>
<text x="223.04" y="519.90" font-size="6.2" text-anchor="end" fill="#fff" textLength="6.70" lengthAdjust="spacingAndGlyphs" transform="rotate(-90 223.04 519.90)">10</text>
<line x1="220.50" y1="635.20" x2="220.50" y2="637.80" stroke="#262626" stroke-width="0.9"/>
<text x="224.34" y="646.30" font-size="7.2" text-anchor="end" fill="#333" textLength="40.00" lengthAdjust="spacingAndGlyphs" transform="rotate(-45 224.34 646.30)" stroke="#333" stroke-width="0.22">hTpoR Q516C</text>
<rect x="228.02" y="507.27" width="6.30" height="127.93" fill="#2ba2dc"/>
<text x="233.37" y="508.27" font-size="6.2" text-anchor="end" fill="#fff" textLength="6.70" lengthAdjust="spacingAndGlyphs" transform="rotate(-90 233.37 508.27)">11</text>
<line x1="231.50" y1="635.20" x2="231.50" y2="637.80" stroke="#262626" stroke-width="0.9"/>
<text x="234.67" y="646.30" font-size="7.2" text-anchor="end" fill="#333" textLength="41.00" lengthAdjust="spacingAndGlyphs" transform="rotate(-45 234.67 646.30)" stroke="#333" stroke-width="0.22">hTpoR Q516N</text>
<rect x="238.35" y="518.90" width="6.30" height="116.30" fill="#2ba2dc"/>
<text x="243.70" y="519.90" font-size="6.2" text-anchor="end" fill="#fff" textLength="6.70" lengthAdjust="spacingAndGlyphs" transform="rotate(-90 243.70 519.90)">10</text>
<line x1="241.50" y1="635.20" x2="241.50" y2="637.80" stroke="#262626" stroke-width="0.9"/>
<text x="245.00" y="646.30" font-size="7.2" text-anchor="end" fill="#333" textLength="61.60" lengthAdjust="spacingAndGlyphs" transform="rotate(-45 245.00 646.30)" stroke="#333" stroke-width="0.22">hTpoR L500G/V507G</text>
<line x1="302.50" y1="456.00" x2="302.50" y2="635.70" stroke="#3a3a3a" stroke-width="1.3"/>
<line x1="302.10" y1="635.50" x2="507.50" y2="635.50" stroke="#3a3a3a" stroke-width="1.2"/>
<line x1="299.40" y1="635.50" x2="302.60" y2="635.50" stroke="#262626" stroke-width="1.0"/>
<text x="297.20" y="637.40" font-size="6.4" text-anchor="end" fill="#333" textLength="3.40" lengthAdjust="spacingAndGlyphs" stroke="#333" stroke-width="0.22">0</text>
<line x1="299.40" y1="577.50" x2="302.60" y2="577.50" stroke="#262626" stroke-width="1.0"/>
<text x="297.20" y="579.25" font-size="6.4" text-anchor="end" fill="#333" textLength="3.40" lengthAdjust="spacingAndGlyphs" stroke="#333" stroke-width="0.22">5</text>
<line x1="299.40" y1="518.50" x2="302.60" y2="518.50" stroke="#262626" stroke-width="1.0"/>
<text x="297.20" y="521.10" font-size="6.4" text-anchor="end" fill="#333" textLength="6.80" lengthAdjust="spacingAndGlyphs" stroke="#333" stroke-width="0.22">10</text>
<line x1="299.40" y1="460.50" x2="302.60" y2="460.50" stroke="#262626" stroke-width="1.0"/>
<text x="297.20" y="462.95" font-size="6.4" text-anchor="end" fill="#333" textLength="6.80" lengthAdjust="spacingAndGlyphs" stroke="#333" stroke-width="0.22">15</text>
<text x="286.40" y="546.10" font-size="8.6" text-anchor="middle" fill="#333" textLength="59.50" lengthAdjust="spacingAndGlyphs" transform="rotate(-90 286.40 546.10)" stroke="#333" stroke-width="0.15">Number of colonies</text>
<text x="375.00" y="463.00" font-size="8.0" text-anchor="start" fill="#222" textLength="59.00" lengthAdjust="spacingAndGlyphs">JAK2 WT n = 32</text>
<line x1="309.50" y1="635.20" x2="309.50" y2="637.80" stroke="#262626" stroke-width="0.9"/>
<text x="313.45" y="646.30" font-size="7.2" text-anchor="end" fill="#333" textLength="38.00" lengthAdjust="spacingAndGlyphs" transform="rotate(-45 313.45 646.30)" stroke="#333" stroke-width="0.22">Empty vector</text>
<rect x="317.13" y="611.94" width="6.30" height="23.26" fill="#f39000"/>
<text x="322.48" y="612.94" font-size="6.2" text-anchor="end" fill="#fff" textLength="3.40" lengthAdjust="spacingAndGlyphs" transform="rotate(-90 322.48 612.94)">2</text>
<line x1="320.50" y1="635.20" x2="320.50" y2="637.80" stroke="#262626" stroke-width="0.9"/>
<text x="323.78" y="646.30" font-size="7.2" text-anchor="end" fill="#333" textLength="30.40" lengthAdjust="spacingAndGlyphs" transform="rotate(-45 323.78 646.30)" stroke="#333" stroke-width="0.22">hTpoR WT</text>
<rect x="327.46" y="623.57" width="6.30" height="11.63" fill="#f39000"/>
<text x="332.81" y="624.57" font-size="6.2" text-anchor="end" fill="#fff" textLength="3.40" lengthAdjust="spacingAndGlyphs" transform="rotate(-90 332.81 624.57)">1</text>
<line x1="330.50" y1="635.20" x2="330.50" y2="637.80" stroke="#262626" stroke-width="0.9"/>
<text x="334.11" y="646.30" font-size="7.2" text-anchor="end" fill="#333" textLength="40.00" lengthAdjust="spacingAndGlyphs" transform="rotate(-45 334.11 646.30)" stroke="#333" stroke-width="0.22">hTpoR V495A</text>
<rect x="337.79" y="623.57" width="6.30" height="11.63" fill="#f39000"/>
<text x="343.14" y="624.57" font-size="6.2" text-anchor="end" fill="#fff" textLength="3.40" lengthAdjust="spacingAndGlyphs" transform="rotate(-90 343.14 624.57)">1</text>
<line x1="340.50" y1="635.20" x2="340.50" y2="637.80" stroke="#262626" stroke-width="0.9"/>
<text x="344.44" y="646.30" font-size="7.2" text-anchor="end" fill="#333" textLength="40.00" lengthAdjust="spacingAndGlyphs" transform="rotate(-45 344.44 646.30)" stroke="#333" stroke-width="0.22">hTpoR Q516C</text>
<rect x="348.12" y="623.57" width="6.30" height="11.63" fill="#f39000"/>
<text x="353.47" y="624.57" font-size="6.2" text-anchor="end" fill="#fff" textLength="3.40" lengthAdjust="spacingAndGlyphs" transform="rotate(-90 353.47 624.57)">1</text>
<line x1="351.50" y1="635.20" x2="351.50" y2="637.80" stroke="#262626" stroke-width="0.9"/>
<text x="354.77" y="646.30" font-size="7.2" text-anchor="end" fill="#333" textLength="41.00" lengthAdjust="spacingAndGlyphs" transform="rotate(-45 354.77 646.30)" stroke="#333" stroke-width="0.22">hTpoR Q516N</text>
<rect x="358.45" y="600.31" width="6.30" height="34.89" fill="#f39000"/>
<text x="363.80" y="601.31" font-size="6.2" text-anchor="end" fill="#fff" textLength="3.40" lengthAdjust="spacingAndGlyphs" transform="rotate(-90 363.80 601.31)">3</text>
<line x1="361.50" y1="635.20" x2="361.50" y2="637.80" stroke="#262626" stroke-width="0.9"/>
<text x="365.10" y="646.30" font-size="7.2" text-anchor="end" fill="#333" textLength="61.60" lengthAdjust="spacingAndGlyphs" transform="rotate(-45 365.10 646.30)" stroke="#333" stroke-width="0.22">hTpoR L500G/V507G</text>
<rect x="375.90" y="623.57" width="6.30" height="11.63" fill="#3e4a5b"/>
<text x="381.25" y="624.57" font-size="6.2" text-anchor="end" fill="#fff" textLength="3.40" lengthAdjust="spacingAndGlyphs" transform="rotate(-90 381.25 624.57)">1</text>
<line x1="379.50" y1="635.20" x2="379.50" y2="637.80" stroke="#262626" stroke-width="0.9"/>
<text x="382.55" y="646.30" font-size="7.2" text-anchor="end" fill="#333" textLength="38.00" lengthAdjust="spacingAndGlyphs" transform="rotate(-45 382.55 646.30)" stroke="#333" stroke-width="0.22">Empty vector</text>
<rect x="386.23" y="542.16" width="6.30" height="93.04" fill="#3e4a5b"/>
<text x="391.58" y="543.16" font-size="6.2" text-anchor="end" fill="#fff" textLength="3.40" lengthAdjust="spacingAndGlyphs" transform="rotate(-90 391.58 543.16)">8</text>
<line x1="389.50" y1="635.20" x2="389.50" y2="637.80" stroke="#262626" stroke-width="0.9"/>
<text x="392.88" y="646.30" font-size="7.2" text-anchor="end" fill="#333" textLength="30.40" lengthAdjust="spacingAndGlyphs" transform="rotate(-45 392.88 646.30)" stroke="#333" stroke-width="0.22">hTpoR WT</text>
<rect x="396.56" y="588.68" width="6.30" height="46.52" fill="#3e4a5b"/>
<text x="401.91" y="589.68" font-size="6.2" text-anchor="end" fill="#fff" textLength="3.40" lengthAdjust="spacingAndGlyphs" transform="rotate(-90 401.91 589.68)">4</text>
<line x1="399.50" y1="635.20" x2="399.50" y2="637.80" stroke="#262626" stroke-width="0.9"/>
<text x="403.21" y="646.30" font-size="7.2" text-anchor="end" fill="#333" textLength="40.00" lengthAdjust="spacingAndGlyphs" transform="rotate(-45 403.21 646.30)" stroke="#333" stroke-width="0.22">hTpoR V495A</text>
<rect x="406.89" y="542.16" width="6.30" height="93.04" fill="#3e4a5b"/>
<text x="412.24" y="543.16" font-size="6.2" text-anchor="end" fill="#fff" textLength="3.40" lengthAdjust="spacingAndGlyphs" transform="rotate(-90 412.24 543.16)">8</text>
<line x1="410.50" y1="635.20" x2="410.50" y2="637.80" stroke="#262626" stroke-width="0.9"/>
<text x="413.54" y="646.30" font-size="7.2" text-anchor="end" fill="#333" textLength="40.00" lengthAdjust="spacingAndGlyphs" transform="rotate(-45 413.54 646.30)" stroke="#333" stroke-width="0.22">hTpoR Q516C</text>
<rect x="417.22" y="542.16" width="6.30" height="93.04" fill="#3e4a5b"/>
<text x="422.57" y="543.16" font-size="6.2" text-anchor="end" fill="#fff" textLength="3.40" lengthAdjust="spacingAndGlyphs" transform="rotate(-90 422.57 543.16)">8</text>
<line x1="420.50" y1="635.20" x2="420.50" y2="637.80" stroke="#262626" stroke-width="0.9"/>
<text x="423.87" y="646.30" font-size="7.2" text-anchor="end" fill="#333" textLength="41.00" lengthAdjust="spacingAndGlyphs" transform="rotate(-45 423.87 646.30)" stroke="#333" stroke-width="0.22">hTpoR Q516N</text>
<rect x="427.55" y="518.90" width="6.30" height="116.30" fill="#3e4a5b"/>
<text x="432.90" y="519.90" font-size="6.2" text-anchor="end" fill="#fff" textLength="6.70" lengthAdjust="spacingAndGlyphs" transform="rotate(-90 432.90 519.90)">10</text>
<line x1="430.50" y1="635.20" x2="430.50" y2="637.80" stroke="#262626" stroke-width="0.9"/>
<text x="434.20" y="646.30" font-size="7.2" text-anchor="end" fill="#333" textLength="61.60" lengthAdjust="spacingAndGlyphs" transform="rotate(-45 434.20 646.30)" stroke="#333" stroke-width="0.22">hTpoR L500G/V507G</text>
<rect x="444.60" y="542.16" width="6.30" height="93.04" fill="#2ba2dc"/>
<text x="449.95" y="543.16" font-size="6.2" text-anchor="end" fill="#fff" textLength="3.40" lengthAdjust="spacingAndGlyphs" transform="rotate(-90 449.95 543.16)">8</text>
<line x1="447.50" y1="635.20" x2="447.50" y2="637.80" stroke="#262626" stroke-width="0.9"/>
<text x="451.25" y="646.30" font-size="7.2" text-anchor="end" fill="#333" textLength="38.00" lengthAdjust="spacingAndGlyphs" transform="rotate(-45 451.25 646.30)" stroke="#333" stroke-width="0.22">Empty vector</text>
<rect x="454.93" y="530.53" width="6.30" height="104.67" fill="#2ba2dc"/>
<text x="460.28" y="531.53" font-size="6.2" text-anchor="end" fill="#fff" textLength="3.40" lengthAdjust="spacingAndGlyphs" transform="rotate(-90 460.28 531.53)">9</text>
<line x1="458.50" y1="635.20" x2="458.50" y2="637.80" stroke="#262626" stroke-width="0.9"/>
<text x="461.58" y="646.30" font-size="7.2" text-anchor="end" fill="#333" textLength="30.40" lengthAdjust="spacingAndGlyphs" transform="rotate(-45 461.58 646.30)" stroke="#333" stroke-width="0.22">hTpoR WT</text>
<rect x="465.26" y="530.53" width="6.30" height="104.67" fill="#2ba2dc"/>
<text x="470.61" y="531.53" font-size="6.2" text-anchor="end" fill="#fff" textLength="3.40" lengthAdjust="spacingAndGlyphs" transform="rotate(-90 470.61 531.53)">9</text>
<line x1="468.50" y1="635.20" x2="468.50" y2="637.80" stroke="#262626" stroke-width="0.9"/>
<text x="471.91" y="646.30" font-size="7.2" text-anchor="end" fill="#333" textLength="40.00" lengthAdjust="spacingAndGlyphs" transform="rotate(-45 471.91 646.30)" stroke="#333" stroke-width="0.22">hTpoR V495A</text>
<rect x="475.59" y="530.53" width="6.30" height="104.67" fill="#2ba2dc"/>
<text x="480.94" y="531.53" font-size="6.2" text-anchor="end" fill="#fff" textLength="3.40" lengthAdjust="spacingAndGlyphs" transform="rotate(-90 480.94 531.53)">9</text>
<line x1="478.50" y1="635.20" x2="478.50" y2="637.80" stroke="#262626" stroke-width="0.9"/>
<text x="482.24" y="646.30" font-size="7.2" text-anchor="end" fill="#333" textLength="40.00" lengthAdjust="spacingAndGlyphs" transform="rotate(-45 482.24 646.30)" stroke="#333" stroke-width="0.22">hTpoR Q516C</text>
<rect x="485.92" y="507.27" width="6.30" height="127.93" fill="#2ba2dc"/>
<text x="491.27" y="508.27" font-size="6.2" text-anchor="end" fill="#fff" textLength="6.70" lengthAdjust="spacingAndGlyphs" transform="rotate(-90 491.27 508.27)">11</text>
<line x1="489.50" y1="635.20" x2="489.50" y2="637.80" stroke="#262626" stroke-width="0.9"/>
<text x="492.57" y="646.30" font-size="7.2" text-anchor="end" fill="#333" textLength="41.00" lengthAdjust="spacingAndGlyphs" transform="rotate(-45 492.57 646.30)" stroke="#333" stroke-width="0.22">hTpoR Q516N</text>
<rect x="496.25" y="507.27" width="6.30" height="127.93" fill="#2ba2dc"/>
<text x="501.60" y="508.27" font-size="6.2" text-anchor="end" fill="#fff" textLength="6.70" lengthAdjust="spacingAndGlyphs" transform="rotate(-90 501.60 508.27)">11</text>
<line x1="499.50" y1="635.20" x2="499.50" y2="637.80" stroke="#262626" stroke-width="0.9"/>
<text x="502.90" y="646.30" font-size="7.2" text-anchor="end" fill="#333" textLength="61.60" lengthAdjust="spacingAndGlyphs" transform="rotate(-45 502.90 646.30)" stroke="#333" stroke-width="0.22">hTpoR L500G/V507G</text>
<text x="7.80" y="454.90" font-size="10.9" text-anchor="start" fill="#111" font-weight="bold" stroke="#111" stroke-width="0.35">F</text>
<rect x="213.80" y="439.50" width="7.30" height="5.90" fill="#f39000"/>
<text x="223.50" y="445.00" font-size="6.6" text-anchor="start" fill="#333" textLength="11.10" lengthAdjust="spacingAndGlyphs" stroke="#333" stroke-width="0.1">SCF</text>
<rect x="242.00" y="439.50" width="7.20" height="5.90" fill="#3e4a5b"/>
<text x="250.30" y="445.00" font-size="6.6" text-anchor="start" fill="#333" textLength="32.00" lengthAdjust="spacingAndGlyphs" stroke="#333" stroke-width="0.1">SCF + Tpo</text>
<rect x="285.80" y="439.50" width="7.30" height="6.20" fill="#2ba2dc"/>
<text x="295.40" y="445.00" font-size="6.6" text-anchor="start" fill="#333" textLength="68.80" lengthAdjust="spacingAndGlyphs" stroke="#333" stroke-width="0.1">SCF + Epo + IL-3 + IL-6</text>
<text x="340.00" y="107.40" font-size="10.9" text-anchor="start" fill="#111" font-weight="bold" stroke="#111" stroke-width="0.35">E</text>
<text x="415.0" y="126.6" font-size="6.6" text-anchor="middle" fill="#333" textLength="15.5" lengthAdjust="spacingAndGlyphs" stroke="#333" stroke-width="0.18">Bone</text>
<text x="397.0" y="134.9" font-size="6.6" text-anchor="start" fill="#333" textLength="36.0" lengthAdjust="spacingAndGlyphs" stroke="#333" stroke-width="0.18">marrow cells</text>
<text x="340.0" y="171.1" font-size="6.6" text-anchor="start" fill="#333" textLength="80.0" lengthAdjust="spacingAndGlyphs" stroke="#333" stroke-width="0.18">MPL –/– JAK2 WT or V617F</text>
<text x="449.6" y="178.8" font-size="6.6" text-anchor="start" fill="#333" textLength="33.0" lengthAdjust="spacingAndGlyphs" stroke="#333" stroke-width="0.18">Lin- sorting</text>
<text x="370.0" y="217.9" font-size="6.6" text-anchor="start" fill="#333" textLength="48.5" lengthAdjust="spacingAndGlyphs" stroke="#333" stroke-width="0.18">hTpoR-IRES-GFP</text>
<text x="463.5" y="206.6" font-size="6.6" text-anchor="start" fill="#333" textLength="10.4" lengthAdjust="spacingAndGlyphs" stroke="#333" stroke-width="0.18">24h</text>
<text x="450.3" y="288.9" font-size="6.6" text-anchor="start" fill="#333" textLength="63.9" lengthAdjust="spacingAndGlyphs" stroke="#333" stroke-width="0.18">Lin– Sca1+ Kit+ GFP+</text>
<text x="482.0" y="316.4" font-size="6.6" text-anchor="start" fill="#333" textLength="18.7" lengthAdjust="spacingAndGlyphs" stroke="#333" stroke-width="0.18">n = 32</text>
<text x="480.8" y="328.9" font-size="6.6" text-anchor="start" fill="#333" textLength="21.9" lengthAdjust="spacingAndGlyphs" stroke="#333" stroke-width="0.18">10 days</text>
<text x="418.5" y="358.6" font-size="6.6" text-anchor="start" fill="#333" textLength="43.8" lengthAdjust="spacingAndGlyphs" stroke="#333" stroke-width="0.18">Single cell CFU</text>
<path d="M370.5,148.6 C365,148.4 360,148.6 356.5,150.8 C354,152.5 352.2,154.3 351.3,156.2" fill="none" stroke="#d2aaa6" stroke-width="1.3" stroke-linecap="round"/>
<ellipse cx="376.0" cy="147.2" rx="6.6" ry="7.6" fill="#eeeaea" stroke="#e0d8d8" stroke-width="0.4"/>
<ellipse cx="371.4" cy="153.6" rx="1.2" ry="1.0" fill="#dcc4c2"/>
<ellipse cx="378.8" cy="156.4" rx="1.2" ry="1.0" fill="#dcc4c2"/>
<ellipse cx="388.9" cy="155.6" rx="1.2" ry="1.0" fill="#dcc4c2"/>
<ellipse cx="377.5" cy="140.2" rx="3.0" ry="3.4" fill="#efe7e6"/>
<ellipse cx="377.5" cy="140.3" rx="2.2" ry="2.7" fill="#dfaaab"/>
<ellipse cx="390.3" cy="140.4" rx="3.0" ry="3.4" fill="#efe7e6"/>
<ellipse cx="390.3" cy="140.5" rx="2.2" ry="2.7" fill="#dfaaab"/>
<ellipse cx="383.8" cy="146.8" rx="6.4" ry="5.6" fill="#f3eeee" stroke="#e0d8d8" stroke-width="0.4"/>
<circle cx="381.0" cy="146.5" r="0.9" fill="#3a2e2e"/>
<circle cx="386.6" cy="146.5" r="0.9" fill="#3a2e2e"/>
<circle cx="383.9" cy="151.3" r="0.6" fill="#d49a9a"/>
<path d="M392.2,161.2 Q399,149 421.5,147.6" fill="none" stroke="#222" stroke-width="0.8"/>
<polygon points="425.6,147.5 421.0,145.6 421.0,149.5" fill="#111"/>
<rect x="436.2" y="115.2" width="12.4" height="3.0" rx="1" fill="#e6e8ea" stroke="#cfd3d6" stroke-width="0.4"/>
<path d="M437.0,118.2 L448.0,118.2 L448.0,137.5 L437.0,137.5 Z" fill="#eef1f3" stroke="#d4d8db" stroke-width="0.4"/>
<rect x="437.0" y="127.8" width="11.0" height="10.0" fill="#7fc1da"/>
<rect x="437.3" y="128.0" width="10.4" height="1.6" fill="#a6d5e6"/>
<path d="M437.0,137.2 L448.0,137.2 L447.0,140.2 L438.0,140.2 Z" fill="#2d3338"/>
<rect x="439.2" y="140.2" width="6.6" height="2.8" fill="#cfd2d4"/>
<path d="M440.2,143.4 L445.0,143.4 L444.8,164.5 L443.6,167.5 L441.4,167.5 L440.4,164.5 Z" fill="#383b3e"/>
<rect x="442.0" y="167.5" width="1.1" height="11.0" fill="#8a8f94"/>
<polygon points="389.50,185.40 390.05,186.80 391.36,186.08 390.88,187.50 392.36,187.80 391.07,188.58 392.01,189.75 390.53,189.52 390.49,191.03 389.50,189.90 388.51,191.03 388.47,189.52 386.99,189.75 387.93,188.58 386.64,187.80 388.12,187.50 387.64,186.08 388.95,186.80" fill="#3c9f44"/>
<circle cx="389.5" cy="188.3" r="1.22" fill="#2f8f3a"/>
<polygon points="399.60,182.70 400.39,184.73 402.30,183.68 401.60,185.75 403.74,186.17 401.87,187.30 403.24,189.00 401.08,188.67 401.04,190.85 399.60,189.21 398.16,190.85 398.12,188.67 395.96,189.00 397.33,187.30 395.46,186.17 397.60,185.75 396.90,183.68 398.81,184.73" fill="#3c9f44"/>
<circle cx="399.6" cy="186.9" r="1.76" fill="#2f8f3a"/>
<polygon points="386.30,192.10 387.11,194.18 389.06,193.11 388.35,195.22 390.53,195.65 388.63,196.81 390.02,198.55 387.82,198.21 387.77,200.44 386.30,198.77 384.83,200.44 384.78,198.21 382.58,198.55 383.97,196.81 382.07,195.65 384.25,195.22 383.54,193.11 385.49,194.18" fill="#3c9f44"/>
<circle cx="386.3" cy="196.4" r="1.81" fill="#2f8f3a"/>
<polygon points="395.00,192.20 395.53,193.55 396.80,192.86 396.33,194.23 397.76,194.51 396.52,195.27 397.42,196.40 395.99,196.18 395.96,197.63 395.00,196.54 394.04,197.63 394.01,196.18 392.58,196.40 393.48,195.27 392.24,194.51 393.67,194.23 393.20,192.86 394.47,193.55" fill="#3c9f44"/>
<circle cx="395.0" cy="195.0" r="1.18" fill="#2f8f3a"/>
<polygon points="404.80,194.80 405.31,196.10 406.54,195.43 406.09,196.76 407.46,197.03 406.26,197.76 407.14,198.85 405.75,198.64 405.72,200.04 404.80,198.99 403.88,200.04 403.85,198.64 402.46,198.85 403.34,197.76 402.14,197.03 403.51,196.76 403.06,195.43 404.29,196.10" fill="#3c9f44"/>
<circle cx="404.8" cy="197.5" r="1.13" fill="#2f8f3a"/>
<polygon points="395.90,199.50 396.69,201.53 398.60,200.48 397.90,202.54 400.04,202.97 398.17,204.10 399.54,205.80 397.38,205.47 397.34,207.65 395.90,206.01 394.46,207.65 394.42,205.47 392.26,205.80 393.63,204.10 391.76,202.97 393.90,202.54 393.20,200.48 395.11,201.53" fill="#3c9f44"/>
<circle cx="395.9" cy="203.7" r="1.76" fill="#2f8f3a"/>
<path d="M406.2,191.2 Q411,187.3 424.0,188.3" fill="none" stroke="#222" stroke-width="0.8"/>
<polygon points="428.0,188.4 423.6,186.4 423.6,190.3" fill="#111"/>
<circle cx="435.8" cy="195.4" r="3.2" fill="#d3c6e0" fill-opacity="0.85"/>
<circle cx="443.4" cy="194.9" r="3.2" fill="#efc7b8" fill-opacity="0.85"/>
<circle cx="452.6" cy="198.8" r="3.2" fill="#cadcf0" fill-opacity="0.85"/>
<circle cx="432.3" cy="205.8" r="3.2" fill="#bb98cb" fill-opacity="0.85"/>
<circle cx="442.2" cy="205.8" r="3.2" fill="#9a68ab" fill-opacity="0.85"/>
<circle cx="451.9" cy="207.4" r="3.2" fill="#a2c98f" fill-opacity="0.85"/>
<circle cx="435.8" cy="214.3" r="3.2" fill="#f4d4ab" fill-opacity="0.85"/>
<circle cx="445.7" cy="213.4" r="3.2" fill="#f1c6a2" fill-opacity="0.85"/>
<line x1="442.2" y1="225.4" x2="442.2" y2="233.5" stroke="#222" stroke-width="0.8"/>
<polygon points="442.2,237.2 440.3,233.0 444.1,233.0" fill="#111"/>
<path d="M426.7,236.6 L428.2,249.0 L439.6,258.3 L439.6,267.5" fill="none" stroke="#3a3a3a" stroke-width="0.9"/>
<path d="M457.9,236.6 L456.4,249.0 L444.8,258.3 L444.8,267.5" fill="none" stroke="#3a3a3a" stroke-width="0.9"/>
<circle cx="433.1" cy="245.2" r="3.2" fill="#d6e8cc"/>
<circle cx="442.3" cy="245.2" r="3.2" fill="#ad88bd"/>
<circle cx="452.7" cy="243.8" r="3.2" fill="#a9d098"/>
<circle cx="440.2" cy="253.1" r="3.2" fill="#f4dbd0"/>
<circle cx="449.2" cy="250.8" r="3.2" fill="#f3cdcd"/>
<line x1="442.0" y1="272.5" x2="442.0" y2="279.5" stroke="#222" stroke-width="0.8"/>
<polygon points="442.0,283.0 440.1,278.8 443.9,278.8" fill="#111"/>
<circle cx="442.2" cy="288.9" r="3.0" fill="#95c77a"/>
<path d="M412.2,320.2 L451.2,308.6 L472.1,323.6 L472.1,326.7 L430.0,343.3 L422.3,343.3 L412.2,323.5 Z" fill="#e3eaf0"/>
<path d="M413.4,319.8 L450.8,309.0 L471.2,323.2 L428.2,339.6 Z" fill="#f6f7f8"/>
<path d="M416.0,320.0 L450.2,310.6 L468.6,323.2 L428.6,337.6 Z" fill="#f6e0e5"/>
<circle cx="418.23" cy="320.70" r="0.55" fill="#ecc4cd"/>
<circle cx="419.83" cy="322.87" r="0.55" fill="#ecc4cd"/>
<circle cx="421.44" cy="325.04" r="0.55" fill="#ecc4cd"/>
<circle cx="423.04" cy="327.22" r="0.55" fill="#ecc4cd"/>
<circle cx="424.65" cy="329.39" r="0.55" fill="#ecc4cd"/>
<circle cx="426.25" cy="331.57" r="0.55" fill="#ecc4cd"/>
<circle cx="427.86" cy="333.74" r="0.55" fill="#ecc4cd"/>
<circle cx="429.46" cy="335.91" r="0.55" fill="#ecc4cd"/>
<circle cx="421.11" cy="319.89" r="0.55" fill="#ecc4cd"/>
<circle cx="422.77" cy="322.01" r="0.55" fill="#ecc4cd"/>
<circle cx="424.44" cy="324.13" r="0.55" fill="#ecc4cd"/>
<circle cx="426.10" cy="326.25" r="0.55" fill="#ecc4cd"/>
<circle cx="427.77" cy="328.37" r="0.55" fill="#ecc4cd"/>
<circle cx="429.44" cy="330.50" r="0.55" fill="#ecc4cd"/>
<circle cx="431.10" cy="332.62" r="0.55" fill="#ecc4cd"/>
<circle cx="432.77" cy="334.74" r="0.55" fill="#ecc4cd"/>
<circle cx="423.99" cy="319.08" r="0.55" fill="#ecc4cd"/>
<circle cx="425.71" cy="321.15" r="0.55" fill="#ecc4cd"/>
<circle cx="427.44" cy="323.22" r="0.55" fill="#ecc4cd"/>
<circle cx="429.17" cy="325.29" r="0.55" fill="#ecc4cd"/>
<circle cx="430.89" cy="327.36" r="0.55" fill="#ecc4cd"/>
<circle cx="432.62" cy="329.43" r="0.55" fill="#ecc4cd"/>
<circle cx="434.34" cy="331.50" r="0.55" fill="#ecc4cd"/>
<circle cx="436.07" cy="333.57" r="0.55" fill="#ecc4cd"/>
<circle cx="426.87" cy="318.27" r="0.55" fill="#ecc4cd"/>
<circle cx="428.65" cy="320.28" r="0.55" fill="#ecc4cd"/>
<circle cx="430.44" cy="322.30" r="0.55" fill="#ecc4cd"/>
<circle cx="432.23" cy="324.32" r="0.55" fill="#ecc4cd"/>
<circle cx="434.01" cy="326.34" r="0.55" fill="#ecc4cd"/>
<circle cx="435.80" cy="328.36" r="0.55" fill="#ecc4cd"/>
<circle cx="437.59" cy="330.37" r="0.55" fill="#ecc4cd"/>
<circle cx="439.37" cy="332.39" r="0.55" fill="#ecc4cd"/>
<circle cx="429.75" cy="317.46" r="0.55" fill="#ecc4cd"/>
<circle cx="431.60" cy="319.42" r="0.55" fill="#ecc4cd"/>
<circle cx="433.44" cy="321.39" r="0.55" fill="#ecc4cd"/>
<circle cx="435.29" cy="323.35" r="0.55" fill="#ecc4cd"/>
<circle cx="437.14" cy="325.32" r="0.55" fill="#ecc4cd"/>
<circle cx="438.98" cy="327.29" r="0.55" fill="#ecc4cd"/>
<circle cx="440.83" cy="329.25" r="0.55" fill="#ecc4cd"/>
<circle cx="442.68" cy="331.22" r="0.55" fill="#ecc4cd"/>
<circle cx="432.63" cy="316.65" r="0.55" fill="#ecc4cd"/>
<circle cx="434.54" cy="318.56" r="0.55" fill="#ecc4cd"/>
<circle cx="436.44" cy="320.48" r="0.55" fill="#ecc4cd"/>
<circle cx="438.35" cy="322.39" r="0.55" fill="#ecc4cd"/>
<circle cx="440.26" cy="324.30" r="0.55" fill="#ecc4cd"/>
<circle cx="442.17" cy="326.22" r="0.55" fill="#ecc4cd"/>
<circle cx="444.07" cy="328.13" r="0.55" fill="#ecc4cd"/>
<circle cx="445.98" cy="330.04" r="0.55" fill="#ecc4cd"/>
<circle cx="435.51" cy="315.84" r="0.55" fill="#ecc4cd"/>
<circle cx="437.48" cy="317.70" r="0.55" fill="#ecc4cd"/>
<circle cx="439.44" cy="319.56" r="0.55" fill="#ecc4cd"/>
<circle cx="441.41" cy="321.42" r="0.55" fill="#ecc4cd"/>
<circle cx="443.38" cy="323.28" r="0.55" fill="#ecc4cd"/>
<circle cx="445.35" cy="325.15" r="0.55" fill="#ecc4cd"/>
<circle cx="447.32" cy="327.01" r="0.55" fill="#ecc4cd"/>
<circle cx="449.28" cy="328.87" r="0.55" fill="#ecc4cd"/>
<circle cx="438.39" cy="315.03" r="0.55" fill="#ecc4cd"/>
<circle cx="440.42" cy="316.84" r="0.55" fill="#ecc4cd"/>
<circle cx="442.45" cy="318.65" r="0.55" fill="#ecc4cd"/>
<circle cx="444.47" cy="320.46" r="0.55" fill="#ecc4cd"/>
<circle cx="446.50" cy="322.27" r="0.55" fill="#ecc4cd"/>
<circle cx="448.53" cy="324.08" r="0.55" fill="#ecc4cd"/>
<circle cx="450.56" cy="325.89" r="0.55" fill="#ecc4cd"/>
<circle cx="452.59" cy="327.70" r="0.55" fill="#ecc4cd"/>
<circle cx="441.27" cy="314.22" r="0.55" fill="#ecc4cd"/>
<circle cx="443.36" cy="315.98" r="0.55" fill="#ecc4cd"/>
<circle cx="445.45" cy="317.73" r="0.55" fill="#ecc4cd"/>
<circle cx="447.53" cy="319.49" r="0.55" fill="#ecc4cd"/>
<circle cx="449.62" cy="321.25" r="0.55" fill="#ecc4cd"/>
<circle cx="451.71" cy="323.01" r="0.55" fill="#ecc4cd"/>
<circle cx="453.80" cy="324.76" r="0.55" fill="#ecc4cd"/>
<circle cx="455.89" cy="326.52" r="0.55" fill="#ecc4cd"/>
<circle cx="444.15" cy="313.41" r="0.55" fill="#ecc4cd"/>
<circle cx="446.30" cy="315.12" r="0.55" fill="#ecc4cd"/>
<circle cx="448.45" cy="316.82" r="0.55" fill="#ecc4cd"/>
<circle cx="450.60" cy="318.53" r="0.55" fill="#ecc4cd"/>
<circle cx="452.75" cy="320.23" r="0.55" fill="#ecc4cd"/>
<circle cx="454.89" cy="321.94" r="0.55" fill="#ecc4cd"/>
<circle cx="457.04" cy="323.64" r="0.55" fill="#ecc4cd"/>
<circle cx="459.19" cy="325.35" r="0.55" fill="#ecc4cd"/>
<circle cx="447.03" cy="312.60" r="0.55" fill="#ecc4cd"/>
<circle cx="449.24" cy="314.25" r="0.55" fill="#ecc4cd"/>
<circle cx="451.45" cy="315.91" r="0.55" fill="#ecc4cd"/>
<circle cx="453.66" cy="317.56" r="0.55" fill="#ecc4cd"/>
<circle cx="455.87" cy="319.21" r="0.55" fill="#ecc4cd"/>
<circle cx="458.08" cy="320.87" r="0.55" fill="#ecc4cd"/>
<circle cx="460.29" cy="322.52" r="0.55" fill="#ecc4cd"/>
<circle cx="462.50" cy="324.17" r="0.55" fill="#ecc4cd"/>
<circle cx="449.91" cy="311.79" r="0.55" fill="#ecc4cd"/>
<circle cx="452.18" cy="313.39" r="0.55" fill="#ecc4cd"/>
<circle cx="454.45" cy="314.99" r="0.55" fill="#ecc4cd"/>
<circle cx="456.72" cy="316.60" r="0.55" fill="#ecc4cd"/>
<circle cx="458.99" cy="318.20" r="0.55" fill="#ecc4cd"/>
<circle cx="461.26" cy="319.80" r="0.55" fill="#ecc4cd"/>
<circle cx="463.53" cy="321.40" r="0.55" fill="#ecc4cd"/>
<circle cx="465.80" cy="323.00" r="0.55" fill="#ecc4cd"/>
<path d="M412.2,323.5 L422.3,343.3 L430.0,343.3 L472.1,326.7" fill="none" stroke="#cdd7df" stroke-width="0.6"/>
<rect x="0.5" y="0.5" width="519" height="696" fill="none" stroke="#5a5a5a" stroke-width="1"/>
</svg>
</body></html>
